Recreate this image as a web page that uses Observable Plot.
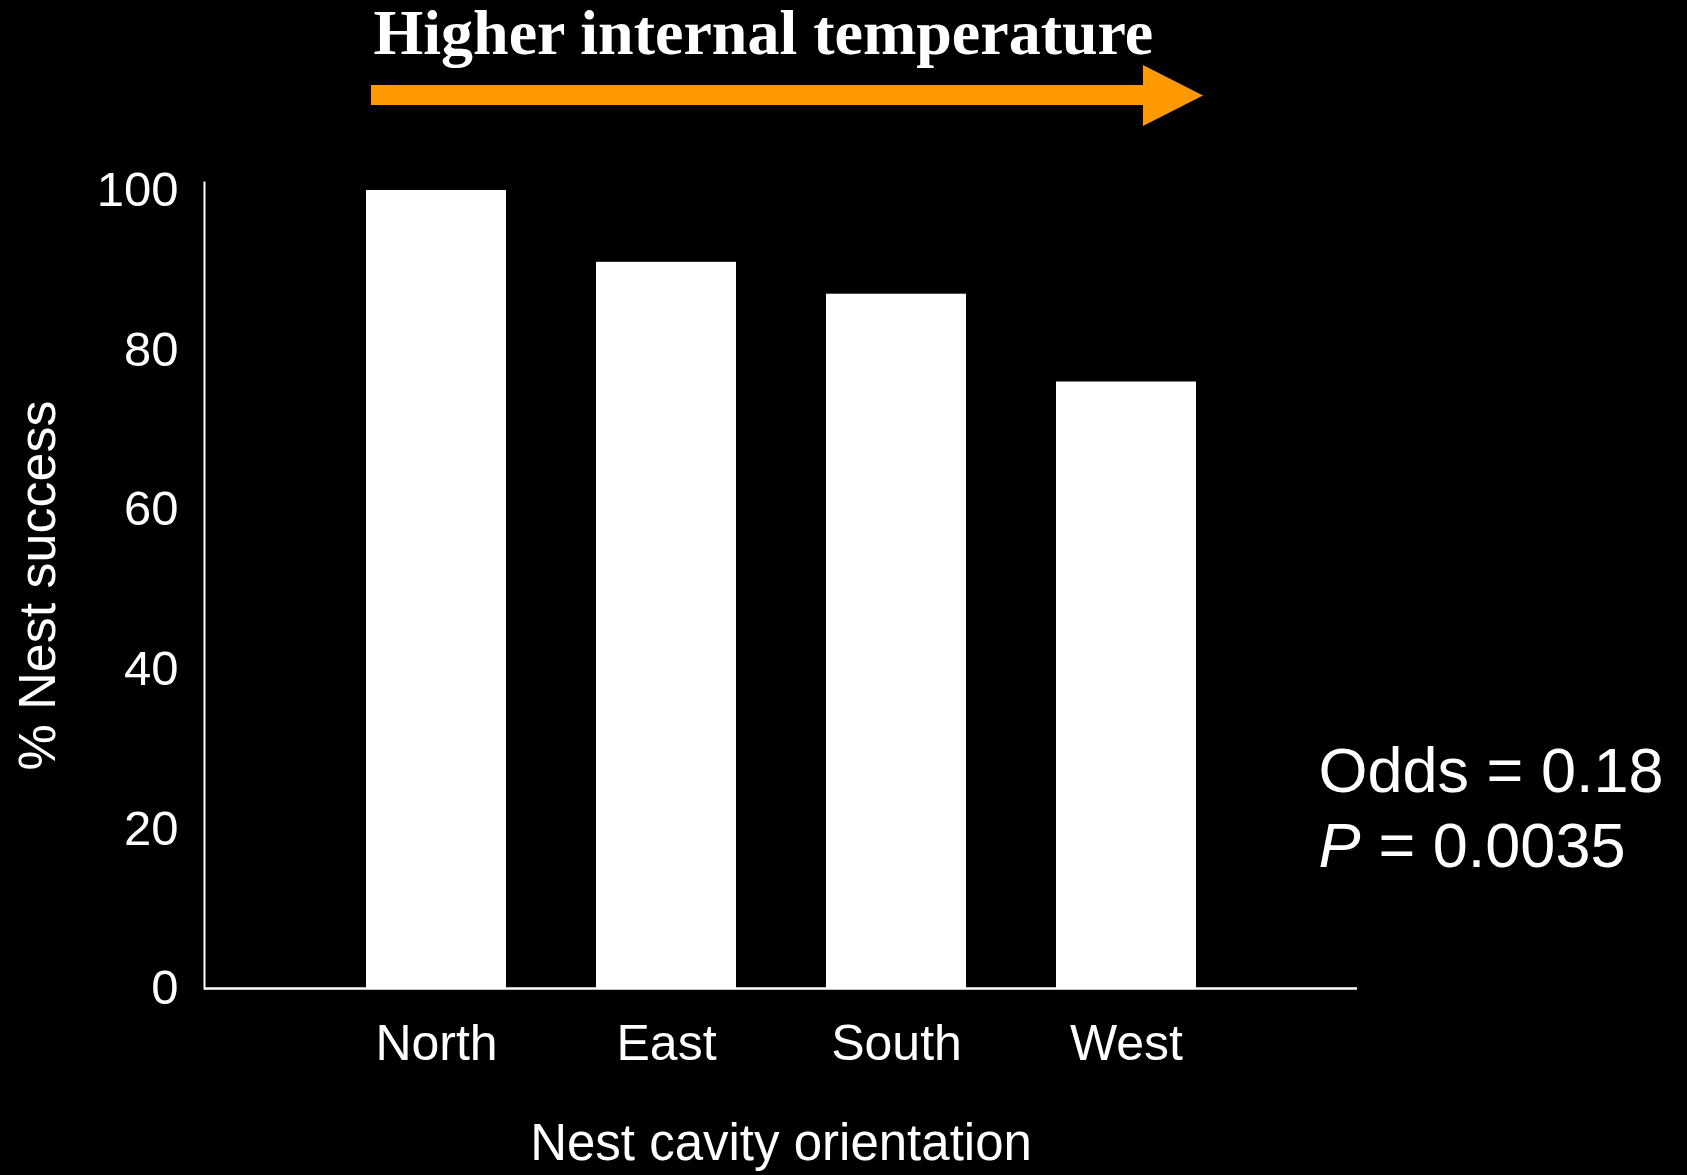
<!DOCTYPE html>
<html><head><meta charset="utf-8">
<script src="https://cdn.jsdelivr.net/npm/d3@7"></script>
<script src="https://cdn.jsdelivr.net/npm/@observablehq/plot@0.6"></script>
<style>html,body{margin:0;padding:0;background:#000;overflow:hidden}</style>
</head><body><div id="chart"></div>
<script>
const categories = ["North", "East", "South", "West"];
const nestSuccess = [100, 91, 87, 76];
const yTicks = [0, 20, 40, 60, 80, 100];
const titleText = "Higher internal temperature";
const xLabel = "Nest cavity orientation";
const yLabel = "% Nest success";
const oddsText = "Odds = 0.18";
const pSymbol = "P";
const pValueText = "= 0.0035";

const data = categories.map((c, i) => ({orientation: c, success: nestSuccess[i]}));
const sans = "'Liberation Sans', Arial, Helvetica, sans-serif";

const chart = Plot.plot({
  width: 1687, height: 1175,
  marginLeft: 204, marginRight: 330, marginTop: 182, marginBottom: 187,
  style: {background: "#000", color: "#fff", fontFamily: sans, fontSize: "49px", overflow: "visible"},
  x: {domain: categories, paddingInner: 0.393, paddingOuter: 0.6965, label: null},
  y: {domain: [0, 101], label: null},
  marks: [
    Plot.barY(data, {x: "orientation", y: "success", fill: "#fff"}),
    Plot.ruleY([0], {stroke: "#fff", strokeWidth: 2.5}),
    Plot.frame({anchor: "left", stroke: "#fff", strokeWidth: 2}),
    Plot.axisY({ticks: yTicks, tickSize: 0, tickPadding: 26, label: null, fontSize: 49, fill: "#fff"}),
    Plot.axisX({tickSize: 0, tickPadding: 36, label: null, fontSize: 50, fill: "#fff"}),
    Plot.text([xLabel], {text: d => d, frameAnchor: "bottom", dy: 171, lineAnchor: "bottom", textAnchor: "middle", fontSize: 51, fill: "#fff"}),
    Plot.text([yLabel], {text: d => d, frameAnchor: "left", dx: -150, rotate: -90, lineAnchor: "bottom", textAnchor: "middle", fontSize: 52, fill: "#fff"}),
    Plot.text([titleText], {text: d => d, frameAnchor: "top-left", dx: 169, dy: -128.7, lineAnchor: "bottom", textAnchor: "start",
      fontFamily: "'Liberation Serif', 'Times New Roman', serif", fontWeight: "bold", fontSize: 64, fill: "#fff"}),
    Plot.text([oddsText], {text: d => d, frameAnchor: "top-right", dx: -39, dy: 609.7, lineAnchor: "bottom", textAnchor: "start", fontSize: 63, fill: "#fff"}),
    Plot.text([pSymbol], {text: d => d, frameAnchor: "top-right", dx: -39, dy: 684.7, lineAnchor: "bottom", textAnchor: "start", fontSize: 63, fontStyle: "italic", fill: "#fff"}),
    Plot.text([pValueText], {text: d => d, frameAnchor: "top-right", dx: 21, dy: 684.7, lineAnchor: "bottom", textAnchor: "start", fontSize: 63, fill: "#fff"})
  ]
});

// orange arrow (decoration above the plot)
d3.select(chart).append("polygon")
  .attr("points", [[371,85],[1143,85],[1143,65],[1203,95.5],[1143,126],[1143,105],[371,105]].map(p => p.join(",")).join(" "))
  .attr("fill", "#ff9900");

document.getElementById("chart").appendChild(chart);
</script>
</body></html>
